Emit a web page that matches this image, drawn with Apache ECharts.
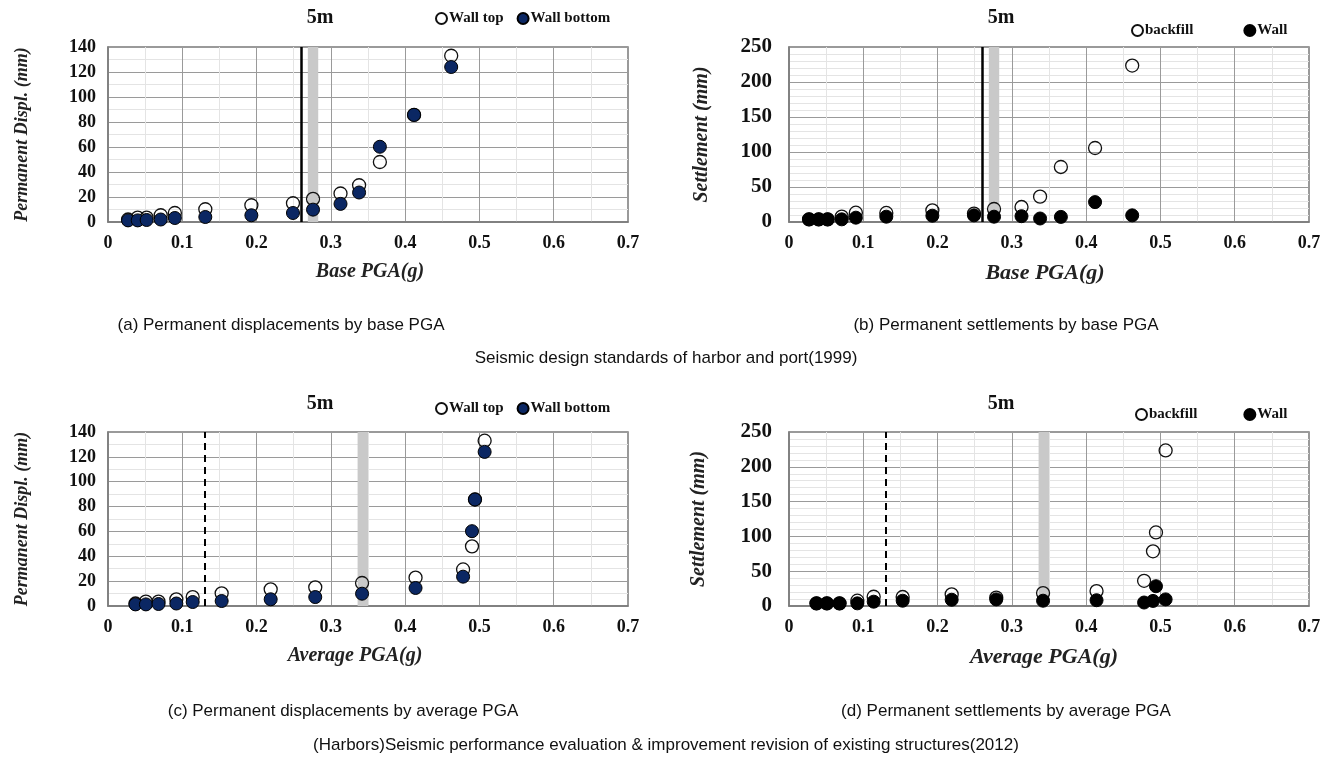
<!DOCTYPE html>
<html>
<head>
<meta charset="utf-8">
<title>Permanent displacements and settlements by PGA</title>
<script src="https://cdn.jsdelivr.net/npm/echarts@6/dist/echarts.min.js"></script>
<style>
  html, body { margin: 0; padding: 0; background: #fff; }
  #chart { width: 1329px; height: 765px; }
</style>
</head>
<body>
<div id="chart"></div>
<script>
// test points (same 14 tests in every panel)
var basePga = [0.027, 0.040, 0.052, 0.071, 0.090, 0.131, 0.193, 0.249, 0.276, 0.313, 0.338, 0.366, 0.412, 0.462];
var avgPga = [0.037, 0.051, 0.068, 0.092, 0.114, 0.153, 0.219, 0.279, 0.342, 0.414, 0.478, 0.490, 0.494, 0.507];

// permanent displacement (mm)
var wallTop = [2, 3.5, 3.5, 5.4, 7.2, 10.2, 13.4, 15, 18.5, 22.8, 29.4, 48, 85.7, 133];
var wallBottom = [1.3, 1.3, 1.6, 2, 3.2, 4, 5.4, 7.2, 9.9, 14.5, 23.6, 60.2, 85.7, 124];

// settlement (mm)
var backfill = [3.8, 3.8, 3.8, 7.6, 13.3, 12.9, 16.7, 12, 18.6, 21.4, 36.2, 78.6, 105.7, 223.5];
var wall = [3.8, 3.8, 3.8, 3.8, 6.2, 7.6, 9, 9.5, 7.6, 8.3, 5, 7.3, 28.4, 9.5];

// design criteria: limit line and shaded band (g)
var limitBase = 0.26;
var bandBase = [0.269, 0.283];
var limitAvg = 0.134;
var bandAvg = [0.336, 0.350];

var xTicks = [0, 0.1, 0.2, 0.3, 0.4, 0.5, 0.6, 0.7];

var captions = [
  '(a) Permanent displacements by base PGA',
  '(b) Permanent settlements by base PGA',
  '(c) Permanent displacements by average PGA',
  '(d) Permanent settlements by average PGA'
];
var standard1999 = 'Seismic design standards of harbor and port(1999)';
var standard2012 = '(Harbors)Seismic performance evaluation & improvement revision of existing structures(2012)';

var serif = "'Liberation Serif', 'Times New Roman', serif";
var sans = "'Liberation Sans', Arial, sans-serif";
var navy = '#0b2763';

function pairs(xs, ys) {
  return xs.map(function (x, i) { return [x, ys[i]]; });
}

var panels = [
  { left: 108, top: 47, height: 175, xs: basePga, open: wallTop, fill: wallBottom, openName: 'Wall top', fillName: 'Wall bottom',
    fillColor: navy, ymax: 140, yint: 20, yminor: 2, ylabel: 18, ymargin: 12, yname: 'Permanent Displ. (mm)', ynameSize: 18, ygap: 77,
    xname: 'Base PGA(g)', xnameSize: 20, xpad: [0, 0, 0, 4],
    limit: limitBase, dashed: false, band: bandBase, titleY: 3, legendLeft: 430, legendTop: 6, legendGap: 13 },
  { left: 789, top: 47, height: 175, xs: basePga, open: backfill, fill: wall, openName: 'backfill', fillName: 'Wall',
    fillColor: '#000', ymax: 250, yint: 50, yminor: 5, ylabel: 21, ymargin: 17, yname: 'Settlement (mm)', ynameSize: 20, ygap: 77,
    xname: 'Base PGA(g)', xnameSize: 22, xpad: [0, 8, 0, 0],
    limit: limitBase, dashed: false, band: bandBase, titleY: 3, legendLeft: 1126, legendTop: 18, legendGap: 50 },
  { left: 108, top: 432, height: 174, xs: avgPga, open: wallTop, fill: wallBottom, openName: 'Wall top', fillName: 'Wall bottom',
    fillColor: navy, ymax: 140, yint: 20, yminor: 2, ylabel: 18, ymargin: 12, yname: 'Permanent Displ. (mm)', ynameSize: 18, ygap: 77,
    xname: 'Average PGA(g)', xnameSize: 20, xpad: [0, 26, 0, 0],
    limit: limitAvg, dashed: true, band: bandAvg, titleY: 389, legendLeft: 430, legendTop: 396, legendGap: 13 },
  { left: 789, top: 432, height: 174, xs: avgPga, open: backfill, fill: wall, openName: 'backfill', fillName: 'Wall',
    fillColor: '#000', ymax: 250, yint: 50, yminor: 5, ylabel: 21, ymargin: 17, yname: 'Settlement (mm)', ynameSize: 20, ygap: 80,
    xname: 'Average PGA(g)', xnameSize: 22, xpad: [0, 10, 0, 0],
    limit: limitAvg, dashed: true, band: bandAvg, titleY: 389, legendLeft: 1130, legendTop: 402, legendGap: 46 }
];

var option = {
  backgroundColor: '#fff',
  animation: false,
  title: [],
  legend: [],
  grid: [],
  xAxis: [],
  yAxis: [],
  series: [],
  graphic: []
};

panels.forEach(function (p, i) {
  option.grid.push({
    left: p.left, top: p.top, width: 520, height: p.height,
    show: true, borderColor: '#7a7a7a', borderWidth: 1.5, backgroundColor: '#fff'
  });
  option.title.push({
    text: '5m', left: p.left + 207, top: p.titleY, textAlign: 'center',
    textStyle: { fontFamily: serif, fontWeight: 'bold', fontSize: 20, color: '#111' }
  });
  option.legend.push({
    data: [p.openName, p.fillName], left: p.legendLeft, top: p.legendTop,
    icon: 'circle', itemWidth: 11, itemHeight: 11, itemGap: p.legendGap,
    selectedMode: false,
    textStyle: { fontFamily: serif, fontWeight: 'bold', fontSize: 15, color: '#111', padding: [0, 0, 0, -3] }
  });
  option.xAxis.push({
    type: 'value', gridIndex: i, min: xTicks[0], max: xTicks[xTicks.length - 1], interval: 0.1,
    name: p.xname, nameLocation: 'middle', nameGap: 40,
    nameTextStyle: { fontFamily: serif, fontWeight: 'bold', fontStyle: 'italic', fontSize: p.xnameSize, color: '#222', padding: p.xpad },
    axisLine: { show: true, lineStyle: { color: '#7a7a7a', width: 1.5 } },
    axisTick: { show: false },
    axisLabel: { fontFamily: serif, fontWeight: 'bold', fontSize: 18, color: '#111', margin: 12 },
    splitLine: { show: true, lineStyle: { color: '#9a9a9a', width: 1 } },
    minorTick: { show: false, splitNumber: 2 },
    minorSplitLine: { show: true, lineStyle: { color: '#e4e4e4', width: 1 } }
  });
  option.yAxis.push({
    type: 'value', gridIndex: i, min: 0, max: p.ymax, interval: p.yint,
    name: p.yname, nameLocation: 'middle', nameGap: p.ygap, nameRotate: 90,
    nameTextStyle: { fontFamily: serif, fontWeight: 'bold', fontStyle: 'italic', fontSize: p.ynameSize, color: '#222' },
    axisLine: { show: true, lineStyle: { color: '#7a7a7a', width: 1.5 } },
    axisTick: { show: false },
    axisLabel: { fontFamily: serif, fontWeight: 'bold', fontSize: p.ylabel, color: '#111', margin: p.ymargin },
    splitLine: { show: true, lineStyle: { color: '#9a9a9a', width: 1 } },
    minorTick: { show: false, splitNumber: p.yminor },
    minorSplitLine: { show: true, lineStyle: { color: '#e4e4e4', width: 1 } }
  });

  // shaded band + limit line
  option.series.push({
    type: 'line', xAxisIndex: i, yAxisIndex: i, data: [], silent: true, z: 1,
    markArea: {
      silent: true,
      itemStyle: { color: '#c9c9c9', opacity: 1 },
      data: [[{ xAxis: p.band[0] }, { xAxis: p.band[1] }]]
    },
    markLine: {
      silent: true, symbol: 'none', label: { show: false },
      lineStyle: { color: '#000', width: p.dashed ? 2 : 2.5, type: p.dashed ? [7, 5] : 'solid', opacity: 1 },
      data: [{ xAxis: p.limit }]
    }
  });
  option.series.push({
    name: p.openName, type: 'scatter', xAxisIndex: i, yAxisIndex: i, z: 3,
    symbol: 'circle', symbolSize: 13,
    itemStyle: { color: 'rgba(255,255,255,0)', borderColor: '#111', borderWidth: 1.3, opacity: 1 },
    data: pairs(p.xs, p.open)
  });
  option.series.push({
    name: p.fillName, type: 'scatter', xAxisIndex: i, yAxisIndex: i, z: 4,
    symbol: 'circle', symbolSize: 13,
    itemStyle: { color: p.fillColor, borderColor: '#000', borderWidth: 1, opacity: 1 },
    data: pairs(p.xs, p.fill)
  });
});

function caption(text, x, y) {
  return {
    type: 'text', x: x, y: y,
    style: { text: text, fontFamily: sans, fontSize: 17, fill: '#111', align: 'center', verticalAlign: 'middle' }
  };
}

option.graphic = [
  caption(captions[0], 281, 325),
  caption(captions[1], 1006, 325),
  caption(standard1999, 666, 358),
  caption(captions[2], 343, 711),
  caption(captions[3], 1006, 711),
  caption(standard2012, 666, 745)
];

var chart = echarts.init(document.getElementById('chart'));
chart.setOption(option);
</script>
</body>
</html>
